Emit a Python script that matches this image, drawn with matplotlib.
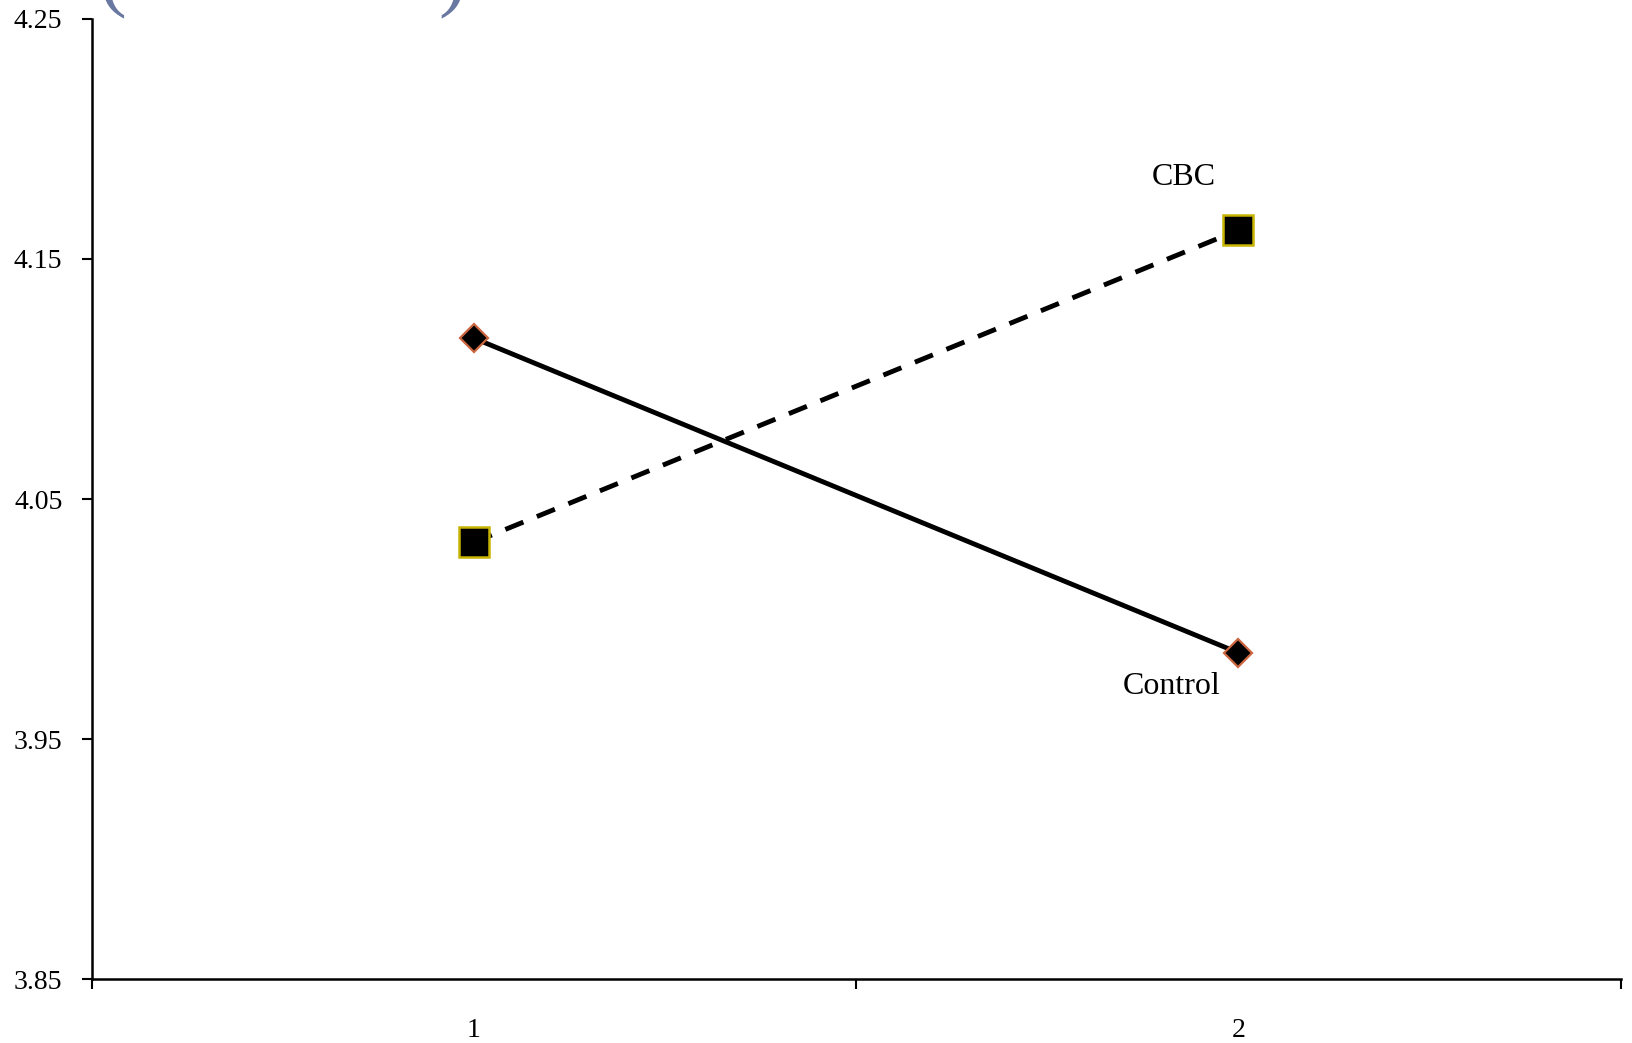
import matplotlib
matplotlib.use("Agg")
from matplotlib import pyplot as plt

# values
periods = [1, 2]
control = [4.117, 3.986]
cbc = [4.032, 4.162]
y_ticks = [3.85, 3.95, 4.05, 4.15, 4.25]

plt.rcParams['font.family'] = ['Liberation Serif', 'DejaVu Serif']

fig = plt.figure(figsize=(16.32, 10.43), dpi=100)
ax = fig.add_axes([0.0561, 0.061, 0.937, 0.921])

ax.plot(periods, control, color='black', lw=3.5, zorder=2,
        marker='D', markersize=14, markerfacecolor='black',
        markeredgecolor='#cc6640', markeredgewidth=1.6)
ax.plot(periods, cbc, color='black', lw=3.5, ls=(0, (4, 3)), zorder=2,
        marker='s', markersize=21, markerfacecolor='black',
        markeredgecolor='#c8b400', markeredgewidth=1.8)

ax.text(1.928, 4.184, 'CBC', fontsize=23, ha='center', va='center')
ax.text(1.912, 3.972, 'Control', fontsize=23, ha='center', va='center')

ax.set_xlim(0.5, 2.5)
ax.set_ylim(3.85, 4.25)
ax.set_yticks(y_ticks)
ax.set_yticklabels([f'{v:.2f}' for v in y_ticks])
ax.set_xticks([0.5, 1.5, 2.5])
ax.set_xticklabels([])
ax.set_xticks(periods, minor=True)
ax.set_xticklabels([str(p) for p in periods], minor=True)

ax.tick_params(axis='y', direction='out', length=7, width=1.5, pad=14, labelsize=20)
ax.tick_params(axis='x', which='major', direction='out', length=7, width=1.5)
ax.tick_params(axis='x', which='minor', length=0, pad=28, labelsize=20)

for side in ['top', 'right']:
    ax.spines[side].set_visible(False)
for side in ['left', 'bottom']:
    ax.spines[side].set_linewidth(1.8)

# bits of a cut-off title bracket at the very top
fig.text(0.069, 1.018, '(', fontsize=60, color='#6878a0', ha='center', va='center')
fig.text(0.277, 1.018, ')', fontsize=60, color='#6878a0', ha='center', va='center')

fig.savefig('out.png', dpi=100)
